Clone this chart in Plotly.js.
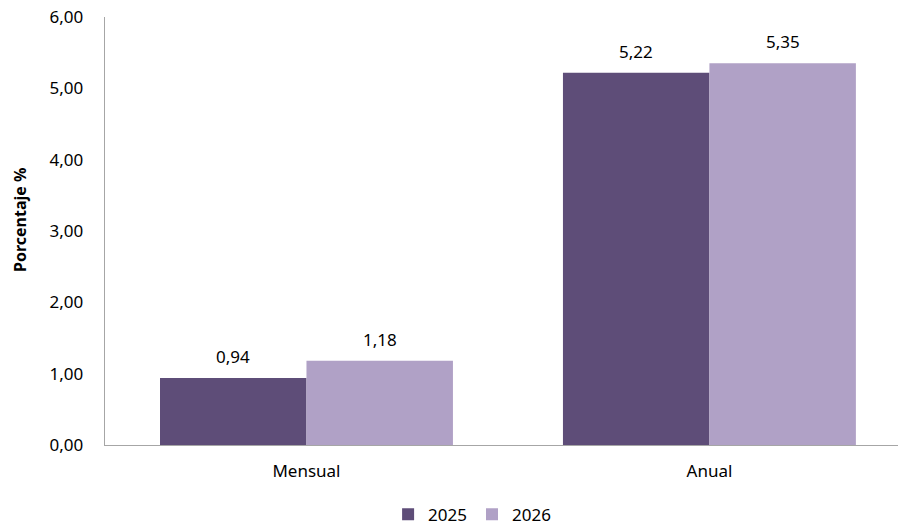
<!DOCTYPE html>
<html>
<head>
<meta charset="utf-8">
<script src="https://cdn.plot.ly/plotly-3.0.1.min.js"></script>
<style>html,body{margin:0;padding:0;background:#fff;}#chart{width:898px;height:525px;}</style>
</head>
<body>
<div id="chart"></div>
<script>
const categories = ["Mensual", "Anual"];
const seriesNames = ["2025", "2026"];
const values2025 = [0.94, 5.22];
const values2026 = [1.18, 5.35];
const yTicks = [0, 1, 2, 3, 4, 5, 6];
const yTitle = "Porcentaje %";

const colors = ["#5E4D78", "#B0A1C6"];
const fontFam = "'Noto Sans', 'Open Sans', sans-serif";
const fs = 17;
const bargap = 0.273;

const allSeries = [values2025, values2026];
const traces = allSeries.map((vals, i) => ({
  type: "bar",
  name: seriesNames[i],
  x: categories,
  y: vals,
  marker: {color: colors[i]},
  hoverinfo: "none"
}));

// value labels above bars, positioned via data coords
const barW = (1 - bargap) / allSeries.length;
const annotations = [];
allSeries.forEach((vals, i) => {
  vals.forEach((v, j) => {
    annotations.push({
      x: j - (1 - bargap) / 2 + barW * (i + 0.5),
      y: v, xref: "x", yref: "y",
      text: v.toFixed(2).replace(".", ","),
      showarrow: false, yanchor: "bottom", yshift: 8,
      font: {family: fontFam, size: fs, color: "#000"}
    });
  });
});
// y axis title
annotations.push({
  x: -0.107, y: 0.526, xref: "paper", yref: "paper",
  xanchor: "center", yanchor: "middle", textangle: -90,
  text: "<b>" + yTitle + "</b>", showarrow: false,
  font: {family: fontFam, size: 16, color: "#000"}
});

const layout = {
  width: 898, height: 525,
  margin: {l: 105, r: 0, t: 17, b: 80, autoexpand: false},
  paper_bgcolor: "#fff", plot_bgcolor: "#fff",
  separators: ",.",
  font: {family: fontFam, size: fs, color: "#000"},
  barmode: "group",
  bargap: bargap,
  bargroupgap: 0,
  showlegend: true,
  annotations: annotations,
  legend: {orientation: "h", x: 0.357, xanchor: "left", y: -0.163, yanchor: "middle",
           font: {family: fontFam, size: fs, color: "#000"}, itemwidth: 30, tracegroupgap: 0},
  xaxis: {
    range: [-0.5, 1.468],
    showgrid: false, zeroline: false, showline: true, linecolor: "#A6A6A6", linewidth: 1.3,
    ticks: "", ticklabelstandoff: 10, tickfont: {family: fontFam, size: fs, color: "#000"},
    automargin: false
  },
  yaxis: {
    range: [0, 6], tickvals: yTicks, tickformat: ".2f",
    showgrid: false, zeroline: false, showline: true, linecolor: "#A6A6A6", linewidth: 1.3,
    ticks: "", ticklabelstandoff: 17, tickfont: {family: fontFam, size: fs, color: "#000"},
    automargin: false
  }
};

Plotly.newPlot("chart", traces, layout, {displayModeBar: false, staticPlot: true});
</script>
</body>
</html>
